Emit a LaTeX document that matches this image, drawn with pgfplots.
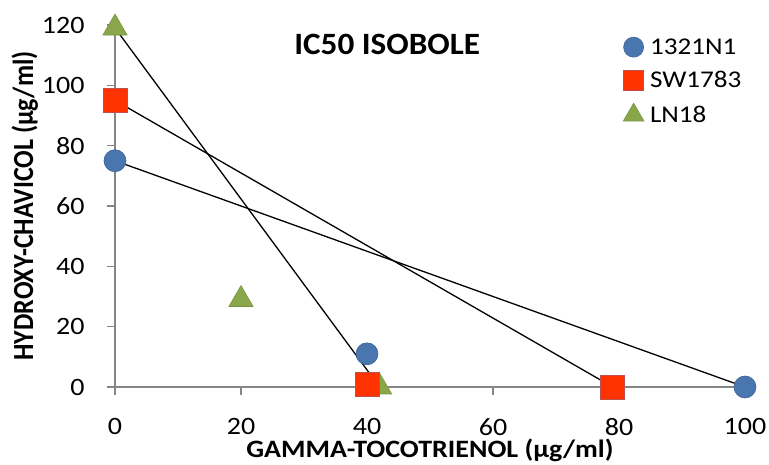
\documentclass[border=0pt]{standalone}
\usepackage{fontspec}
\setmainfont{Carlito}
\usepackage{graphicx}
\usepackage{pgfplots}
\pgfplotsset{compat=1.18}
\definecolor{axgray}{HTML}{868686}
\definecolor{cblue}{HTML}{4A76B0}
\definecolor{cblueo}{HTML}{3C6296}
\definecolor{cred}{HTML}{FF3300}
\definecolor{credo}{HTML}{C0504D}
\definecolor{cgreen}{HTML}{8AA64A}
\definecolor{cgreeno}{HTML}{7A9440}
\newcommand{\hs}[1]{\scalebox{1.12}[1]{#1}}
\begin{document}
\begin{tikzpicture}
\begin{axis}[name=ax, scale only axis, width=630pt, height=362pt,
  xmin=0, xmax=100, ymin=0, ymax=120,
  xtick={0,20,...,100}, ytick={0,20,...,120},
  axis x line=bottom, axis y line=left,
  axis line style={-, axgray, line width=1.5pt},
  tick style={axgray, line width=1.2pt}, tick align=outside, major tick length=8pt,
  /pgf/number format/assume math mode=true,
  xticklabel={\hs{\pgfmathprintnumber{\tick}}},
  yticklabel={\hs{\pgfmathprintnumber{\tick}}},
  tick label style={font=\fontsize{25}{30}\selectfont},
  xticklabel style={yshift=-20pt},
  yticklabel style={xshift=-19pt},
  xlabel={\hs{GAMMA-TOCOTRIENOL (µg/ml)}},
  ylabel={\scalebox{1}[1.12]{HYDROXY-CHAVICOL (µg/ml)}},
  xlabel style={font=\bfseries\fontsize{25}{30}\selectfont, at={(axis description cs:0.5,-0.175)}, anchor=center},
  ylabel style={font=\bfseries\fontsize{26}{31}\selectfont, at={(axis description cs:-0.143,0.5)}, anchor=center},
  clip=false,
  legend image code/.code={\draw[mark repeat=2, mark phase=2, #1] plot coordinates {(0pt,0pt) (9pt,0pt) (18pt,0pt)};},
  legend style={at={(axis description cs:0.8064,0.967)}, anchor=north west, draw=none, fill=none,
    nodes={inner sep=0pt},
    inner sep=0pt, row sep=13pt, column sep=6pt},
  legend cell align=left,
]
% markers
\addplot[only marks, mark=triangle*, mark size=14pt, mark options={fill=cgreen, draw=cgreeno, line width=0.6pt}, forget plot]
  coordinates {(0,119) (20,29) (42,0)};
\addplot[only marks, mark=*, mark size=11pt, mark options={fill=cblue, draw=cblueo, line width=0.6pt}, forget plot]
  coordinates {(0,75) (40,11) (100,0)};
\addplot[only marks, mark=square*, mark size=12pt, mark options={fill=cred, draw=credo, line width=0.6pt}, forget plot]
  coordinates {(0,95) (40,1) (79,0)};
% isobole lines
\addplot[black, line width=1.3pt, forget plot] coordinates {(0,75) (100,0)};
\addplot[black, line width=1.3pt, forget plot] coordinates {(0,95) (79,0)};
\addplot[black, line width=1.3pt, forget plot] coordinates {(0,119) (42,0)};
% legend
\addlegendimage{only marks, mark=*, mark size=10pt, mark options={fill=cblue, draw=cblueo, line width=0.6pt}}
\addlegendentry{\fontsize{24}{29}\selectfont\scalebox{1.13}[1]{1321N1}}
\addlegendimage{only marks, mark=square*, mark size=10pt, mark options={fill=cred, draw=credo, line width=0.6pt}}
\addlegendentry{\fontsize{24}{29}\selectfont\scalebox{1.13}[1]{SW1783}}
\addlegendimage{only marks, mark=triangle*, mark size=12pt, mark options={fill=cgreen, draw=cgreeno, line width=0.6pt}}
\addlegendentry{\fontsize{24}{29}\selectfont\scalebox{1.13}[1]{LN18}}
\node[font=\bfseries\fontsize{31}{37}\selectfont] at (axis description cs:0.432,0.945) {\scalebox{1.07}[1]{IC50 ISOBOLE}};
\end{axis}
\pgfresetboundingbox
\path (ax.south west) ++(-115pt,-78pt) rectangle ++(769pt,465pt);
\end{tikzpicture}
\end{document}
